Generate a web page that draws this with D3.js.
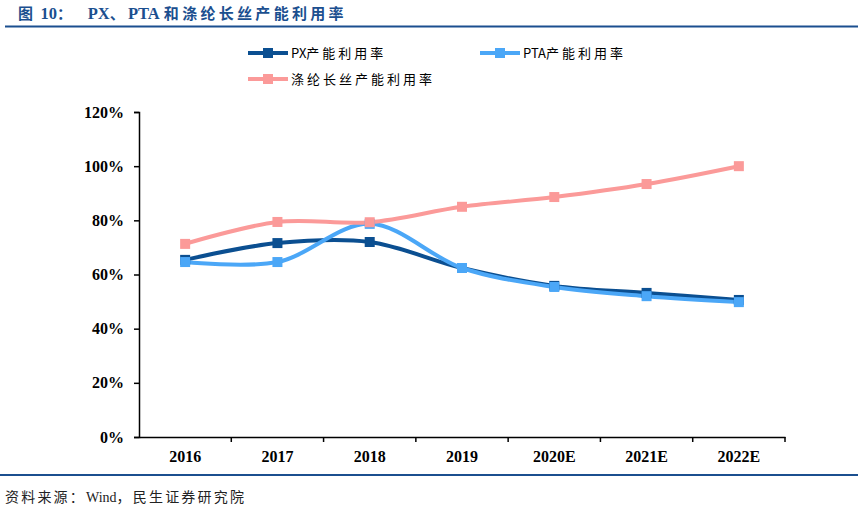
<!DOCTYPE html>
<html>
<head>
<meta charset="utf-8">
<script src="https://cdn.jsdelivr.net/npm/d3@7"></script>
<style>
  body { margin: 0; background: #fff; }
  svg { display: block; }
  text, tspan { white-space: pre; }
</style>
</head>
<body>
<div id="chart"></div>
<script>
// data
var years = ["2016", "2017", "2018", "2019", "2020E", "2021E", "2022E"];
var pxRate = [65.4, 71.6, 72.0, 62.4, 55.8, 53.2, 50.6];
var ptaRate = [64.6, 64.6, 78.7, 62.4, 55.4, 52.0, 49.8];
var polyRate = [71.3, 79.4, 79.3, 85.0, 88.6, 93.4, 100.0];
var yTicks = [0, 20, 40, 60, 80, 100, 120];

var series = [
  { name: "PX产能利用率", values: pxRate, color: "#0B4F91" },
  { name: "PTA产能利用率", values: ptaRate, color: "#4BA7F7" },
  { name: "涤纶长丝产能利用率", values: polyRate, color: "#FB9A99" }
];

var svgWidth = 858, svgHeight = 514;
var plot = { left: 139, right: 785, top: 112, bottom: 437 };

var svg = d3.select("#chart").append("svg")
  .attr("width", svgWidth)
  .attr("height", svgHeight);

// put spacing only on the CJK runs of a label
function spacedText(sel, str, spacing, cjkSize) {
  var runs = str.match(/[\u3000-\u9fff\uff00-\uffef]+|[^\u3000-\u9fff\uff00-\uffef]+/g);
  runs.forEach(function(r) {
    var cjk = /[\u3000-\u9fff\uff00-\uffef]/.test(r);
    var ts = sel.append("tspan")
      .style("letter-spacing", cjk ? spacing + "px" : "0px")
      .text(r);
    if (cjk && cjkSize) ts.style("font-size", cjkSize + "px");
  });
}

// title + rules
var title = svg.append("text")
  .attr("x", 18).attr("y", 19)
  .attr("fill", "#1B4F8F")
  .style("font-family", "'Liberation Serif', 'Noto Sans CJK SC', serif")
  .style("font-weight", "bold")
  .style("font-size", "16.5px");
spacedText(title, "图\u00a010：\u00a0\u00a0\u00a0PX、PTA\u00a0和涤纶长丝产能利用率", 3.3, 15);

svg.append("rect").attr("x", 5).attr("y", 25.5).attr("width", 853).attr("height", 2).attr("fill", "#1B4F8F");
svg.append("rect").attr("x", 0).attr("y", 474).attr("width", 858).attr("height", 2).attr("fill", "#1B4F8F");

var source = svg.append("text")
  .attr("x", 5).attr("y", 502)
  .attr("fill", "#222")
  .style("font-family", "'Liberation Serif', 'Noto Sans CJK SC', serif")
  .style("font-size", "14px");
spacedText(source, "资料来源：Wind，民生证券研究院", 2.2);

// scales
var x = d3.scaleBand().domain(years).range([plot.left, plot.right]);
var y = d3.scaleLinear().domain([0, 120]).range([plot.bottom, plot.top]);

// y axis
var yAxis = svg.append("g")
  .attr("transform", `translate(${plot.left},0)`)
  .call(d3.axisLeft(y).tickValues(yTicks).tickSize(5).tickPadding(10).tickFormat(d => d + "%"));
yAxis.select(".domain").attr("stroke", "#000").attr("stroke-width", 1.5);
yAxis.selectAll(".tick line").attr("stroke", "#000").attr("stroke-width", 1.5);
yAxis.selectAll("text")
  .style("font-family", "'Liberation Serif', serif")
  .style("font-weight", "bold")
  .style("font-size", "16px")
  .attr("fill", "#000");

// x axis
var xAxis = svg.append("g")
  .attr("transform", `translate(0,${plot.bottom})`)
  .call(d3.axisBottom(x).tickSize(0).tickPadding(14));
xAxis.select(".domain").attr("stroke", "#000").attr("stroke-width", 1.5);
xAxis.selectAll("text")
  .style("font-family", "'Liberation Serif', serif")
  .style("font-weight", "bold")
  .style("font-size", "16px")
  .attr("fill", "#000");
// boundary tick marks between categories
xAxis.selectAll(".bnd")
  .data(years.slice(1).concat(["end"]))
  .enter().append("line")
  .attr("x1", (d, i) => plot.left + x.bandwidth() * (i + 1))
  .attr("x2", (d, i) => plot.left + x.bandwidth() * (i + 1))
  .attr("y1", 0).attr("y2", 5)
  .attr("stroke", "#000").attr("stroke-width", 1.5);

// lines
var line = d3.line()
  .x((d, i) => x(years[i]) + x.bandwidth() / 2)
  .y(d => y(d))
  .curve(d3.curveCatmullRom.alpha(0.5));

series.forEach(function(s) {
  svg.append("path")
    .datum(s.values)
    .attr("fill", "none")
    .attr("stroke", s.color)
    .attr("stroke-width", 4)
    .attr("d", line);
});

series.forEach(function(s) {
  svg.selectAll(null)
    .data(s.values)
    .enter().append("rect")
    .attr("x", (d, i) => x(years[i]) + x.bandwidth() / 2 - 5)
    .attr("y", d => y(d) - 5)
    .attr("width", 10).attr("height", 10)
    .attr("fill", s.color);
});

// legend
var legendPos = [[248, 53], [480, 53], [248, 79]];
series.forEach(function(s, i) {
  var g = svg.append("g").attr("transform", `translate(${legendPos[i][0]},${legendPos[i][1]})`);
  g.append("line").attr("x1", 0).attr("x2", 40).attr("y1", 0).attr("y2", 0)
    .attr("stroke", s.color).attr("stroke-width", 4);
  g.append("rect").attr("x", 15).attr("y", -5).attr("width", 10).attr("height", 10).attr("fill", s.color);
  var t = g.append("text").attr("x", 43).attr("y", 5)
    .style("font-family", "'Noto Sans CJK SC', sans-serif")
    .style("font-size", "13px")
    .attr("fill", "#000");
  spacedText(t, s.name, 3);
});
</script>
</body>
</html>
